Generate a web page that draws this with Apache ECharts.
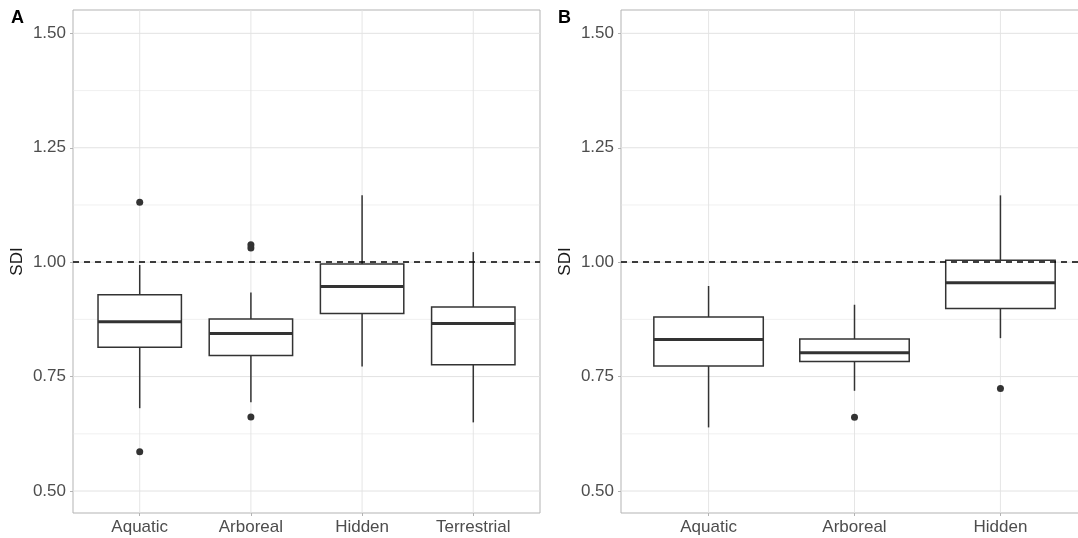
<!DOCTYPE html>
<html>
<head>
<meta charset="utf-8">
<script src="https://cdn.jsdelivr.net/npm/echarts@6/dist/echarts.min.js"></script>
<style>
  html, body { margin: 0; padding: 0; background: #fff; }
  #chart { width: 1078px; height: 538px; }
</style>
</head>
<body>
<div id="chart"></div>
<script>
// panel A
var catsA = ['Aquatic', 'Arboreal', 'Hidden', 'Terrestrial'];
// lower whisker, Q1, median, Q3, upper whisker
var boxA = [
  [0.681, 0.814, 0.870, 0.929, 0.994],
  [0.694, 0.796, 0.844, 0.876, 0.934],
  [0.772, 0.888, 0.947, 0.996, 1.146],
  [0.650, 0.776, 0.866, 0.902, 1.022]
];
var outA = [[0, 1.131], [0, 0.586], [1, 1.038], [1, 1.031], [1, 0.662]];

// panel B
var catsB = ['Aquatic', 'Arboreal', 'Hidden'];
var boxB = [
  [0.639, 0.773, 0.831, 0.880, 0.948],
  [0.719, 0.783, 0.802, 0.832, 0.907],
  [0.834, 0.899, 0.955, 1.004, 1.146]
];
var outB = [[1, 0.661], [2, 0.724]];

var yTicks = [0.5, 0.75, 1.0, 1.25, 1.5];
var yMinor = [0.625, 0.875, 1.125, 1.375];
var refLine = 1.0;

var textFont = 'Liberation Sans';
var ink = '#333333';

function renderBox(params, api) {
  var x = api.value(0);
  var lo = api.coord([x, api.value(1)]);
  var q1 = api.coord([x, api.value(2)]);
  var md = api.coord([x, api.value(3)]);
  var q3 = api.coord([x, api.value(4)]);
  var hi = api.coord([x, api.value(5)]);
  var w = api.size([0.75, 0])[0];
  var cx = lo[0];
  var thin = { stroke: ink, lineWidth: 1.5 };
  return {
    type: 'group',
    children: [
      { type: 'line', shape: { x1: cx, y1: hi[1], x2: cx, y2: q3[1] }, style: thin },
      { type: 'line', shape: { x1: cx, y1: q1[1], x2: cx, y2: lo[1] }, style: thin },
      { type: 'rect', shape: { x: cx - w / 2, y: q3[1], width: w, height: q1[1] - q3[1] },
        style: { fill: '#ffffff', stroke: ink, lineWidth: 1.5 } },
      { type: 'line', shape: { x1: cx - w / 2, y1: md[1], x2: cx + w / 2, y2: md[1] },
        style: { stroke: ink, lineWidth: 3 } }
    ]
  };
}

function hLine(width, color) {
  return function (params, api) {
    var cs = params.coordSys;
    var y = api.coord([0, api.value(1)])[1];
    return { type: 'line', shape: { x1: cs.x, y1: y, x2: cs.x + cs.width, y2: y },
      style: { stroke: color, lineWidth: width } };
  };
}

function vLine(params, api) {
  var cs = params.coordSys;
  var x = api.coord([api.value(0), 1])[0];
  return { type: 'line', shape: { x1: x, y1: cs.y, x2: x, y2: cs.y + cs.height },
    style: { stroke: '#e2e2e2', lineWidth: 0.9 } };
}

function xAxisFor(cats, idx) {
  var pos = cats.map(function (c, i) { return i; });
  return {
    type: 'value', gridIndex: idx, min: -0.6, max: cats.length - 1 + 0.6,
    axisLine: { show: false, onZero: false },
    axisTick: { show: true, length: 3, customValues: pos, lineStyle: { color: '#b3b3b3' } },
    axisLabel: {
      customValues: pos, margin: 6, color: '#4d4d4d', fontSize: 17, fontFamily: textFont,
      formatter: function (v) { return cats[Math.round(v)]; }
    },
    splitLine: { show: false }
  };
}

function yAxisFor(idx) {
  return {
    type: 'value', gridIndex: idx, min: 0.452, max: 1.551,
    name: 'SDI', nameLocation: 'middle', nameGap: 47, nameRotate: 90,
    nameTextStyle: { color: '#1a1a1a', fontSize: 17, fontFamily: textFont },
    axisLine: { show: false, onZero: false },
    axisTick: { show: true, length: 3, customValues: yTicks, lineStyle: { color: '#b3b3b3' } },
    axisLabel: {
      customValues: yTicks, margin: 7, color: '#4d4d4d', fontSize: 17, fontFamily: textFont,
      formatter: function (v) { return v.toFixed(2); }
    },
    splitLine: { show: false }
  };
}

function seriesFor(cats, boxes, outliers, idx) {
  return [
    { type: 'custom', xAxisIndex: idx, yAxisIndex: idx, z: 0, silent: true,
      data: yMinor.map(function (v) { return [0, v]; }), encode: { x: 0, y: 1 },
      renderItem: hLine(0.6, '#e6e6e6') },
    { type: 'custom', xAxisIndex: idx, yAxisIndex: idx, z: 0, silent: true,
      data: yTicks.map(function (v) { return [0, v]; }), encode: { x: 0, y: 1 },
      renderItem: hLine(1, '#e2e2e2') },
    { type: 'custom', xAxisIndex: idx, yAxisIndex: idx, z: 0, silent: true,
      data: cats.map(function (c, i) { return [i, 1]; }), encode: { x: 0, y: 1 },
      renderItem: vLine },
    { type: 'custom', xAxisIndex: idx, yAxisIndex: idx, z: 2,
      data: boxes.map(function (b, i) { return [i].concat(b); }),
      encode: { x: 0, y: [1, 2, 3, 4, 5] },
      renderItem: renderBox,
      markLine: {
        silent: true, symbol: 'none', z: 5, label: { show: false },
        lineStyle: { type: [6, 5], color: '#000000', width: 1.5 },
        data: [{ yAxis: refLine }]
      }
    },
    { type: 'scatter', xAxisIndex: idx, yAxisIndex: idx, z: 3,
      symbolSize: 7, itemStyle: { color: ink, opacity: 1 },
      data: outliers }
  ];
}

var chart = echarts.init(document.getElementById('chart'), null, { renderer: 'canvas' });
chart.setOption({
  animation: false,
  backgroundColor: '#ffffff',
  grid: [
    { left: 73, top: 10, width: 467, height: 503, show: true, borderColor: '#b3b3b3', borderWidth: 1,
      backgroundColor: 'transparent', containLabel: false, outerBoundsMode: 'none' },
    { left: 621, top: 10, width: 467, height: 503, show: true, borderColor: '#b3b3b3', borderWidth: 1,
      backgroundColor: 'transparent', containLabel: false, outerBoundsMode: 'none' }
  ],
  xAxis: [xAxisFor(catsA, 0), xAxisFor(catsB, 1)],
  yAxis: [yAxisFor(0), yAxisFor(1)],
  graphic: [
    { type: 'text', left: 11, top: 9, style: { text: 'A', font: 'bold 18px "Liberation Sans"', fill: '#000' } },
    { type: 'text', left: 558, top: 9, style: { text: 'B', font: 'bold 18px "Liberation Sans"', fill: '#000' } }
  ],
  series: seriesFor(catsA, boxA, outA, 0).concat(seriesFor(catsB, boxB, outB, 1))
});
</script>
</body>
</html>
